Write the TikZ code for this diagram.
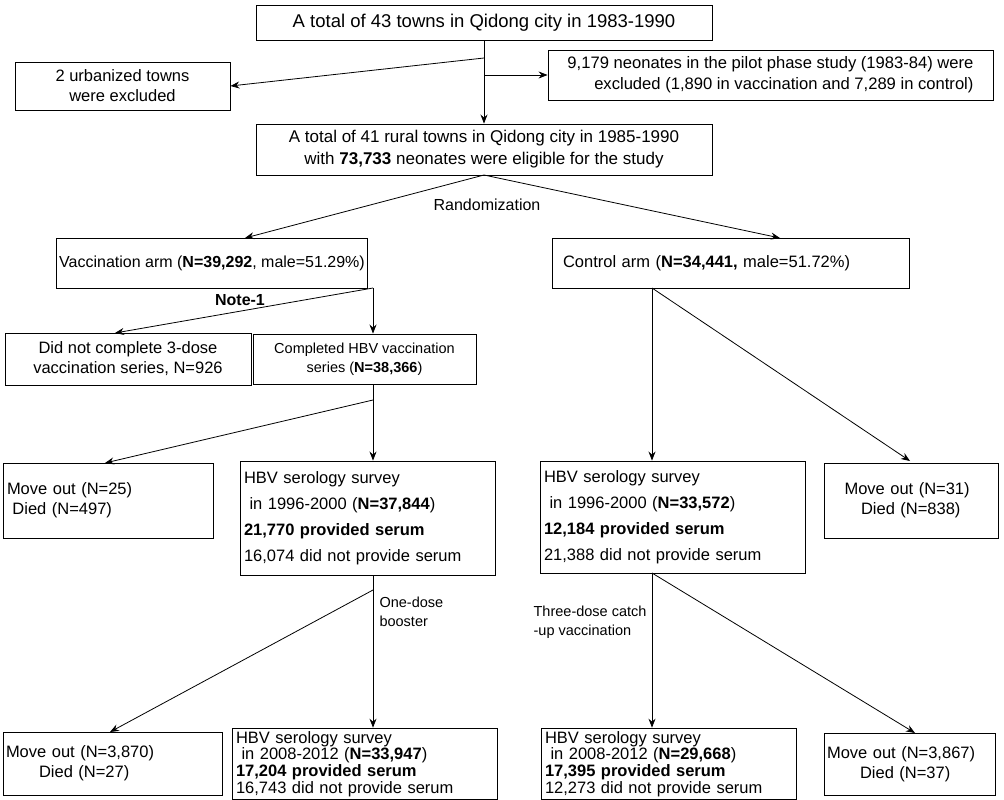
\documentclass[tikz,border=0pt]{standalone}
\usepackage{fontspec}
\setmainfont{Liberation Sans}
\usetikzlibrary{arrows.meta}
\begin{document}
\begin{tikzpicture}[x=1pt,y=-1pt,
 bx/.style={draw,line width=0.9pt,inner sep=3pt,font=\fontsize{16.5}{20}\selectfont},
 ar/.style={line width=0.8pt,-{Stealth[length=9pt,width=7pt,inset=3pt]}},
 ln/.style={line width=0.8pt}]
\useasboundingbox (0,0) rectangle (1004,800);
\fill[white] (0,0) rectangle (1004,800);
\node[bx,minimum width=456pt,minimum height=35pt,font=\fontsize{18.5}{22}\selectfont] (top) at (484,22.5) {A total of 43 towns in Qidong city in 1983-1990};
\node[bx,minimum width=215pt,minimum height=48pt,align=center] (urb) at (122.5,86) {2 urbanized towns\\were excluded};
\node[bx,minimum width=445pt,minimum height=50pt,align=right,font=\fontsize{16.6}{21}\selectfont] (pilot) at (770.5,75) {9,179 neonates in the pilot phase study (1983-84) were\\excluded (1,890 in vaccination and 7,289 in control)};
\node[bx,minimum width=456pt,minimum height=51pt,align=center,font=\fontsize{17}{22}\selectfont] (rural) at (484,149.5) {A total of 41 rural towns in Qidong city in 1985-1990\\with \textbf{73,733} neonates were eligible for the study};
\node[bx,minimum width=300pt,minimum height=50pt,font=\fontsize{16}{20}\selectfont] (vac) at (212,263) {Vaccination arm (\textbf{N=39,292}, male=51.29\%)};
\node[bx,minimum width=357pt,minimum height=50pt,text width=335pt] (ctl) at (730.5,263) {Control arm (\textbf{N=34,441,} male=51.72\%)};
\node[bx,minimum width=246pt,minimum height=52pt,align=center] (nc) at (128,359) {Did not complete 3-dose\\vaccination series, N=926};
\node[bx,minimum width=223pt,minimum height=50pt,align=center,font=\fontsize{14.5}{19}\selectfont] (comp) at (364.5,359) {Completed HBV vaccination\\series (\textbf{N=38,366})};
\node[bx,minimum width=210pt,minimum height=75pt,align=left,text width=202pt] (mo1) at (108,500.5) {Move out (N=25)\\\ Died (N=497)};
\node[bx,minimum width=255pt,minimum height=114pt,align=left,text width=247pt,font=\fontsize{16.5}{26}\selectfont] (s1) at (367.5,518) {HBV serology survey\\\ in 1996-2000 (\textbf{N=37,844})\\\textbf{21,770 provided serum}\\16,074 did not provide serum};
\node[bx,minimum width=265pt,minimum height=112pt,align=left,text width=257pt,font=\fontsize{16.5}{26}\selectfont] (s2) at (672.5,517) {HBV serology survey\\\ in 1996-2000 (\textbf{N=33,572})\\\textbf{12,184 provided serum}\\21,388 did not provide serum};
\node[bx,minimum width=174pt,minimum height=75pt,align=left,text width=166pt] (mo2) at (911,500.5) {\quad Move out (N=31)\\\qquad Died (N=838)};
\node[bx,minimum width=219pt,minimum height=63pt,align=left,text width=213pt,inner sep=1pt] (mo3) at (112.5,763.5) {Move out (N=3,870)\\\qquad Died (N=27)};
\node[bx,minimum width=265pt,minimum height=62pt,align=left,text width=257pt,font=\fontsize{16.5}{16.8}\selectfont] (s3) at (364.5,764) {HBV serology survey\\\ in 2008-2012 (\textbf{N=33,947})\\\textbf{17,204 provided serum}\\16,743 did not provide serum};
\node[bx,minimum width=255pt,minimum height=62pt,align=left,text width=247pt,font=\fontsize{16.5}{16.8}\selectfont] (s4) at (668.5,764) {HBV serology survey\\\ in 2008-2012 (\textbf{N=29,668})\\\textbf{17,395 provided serum}\\12,273 did not provide serum};
\node[bx,minimum width=171pt,minimum height=62pt,align=left,text width=165pt,inner sep=1pt] (mo4) at (909.5,764) {Move out (N=3,867)\\\qquad Died (N=37)};
% connectors
\draw[ar] (top.south -| 484,0) -- (rural.north -| 484,0);
\coordinate (b1) at (484,58);
\coordinate (b2) at (484,75);
\draw[ar] (b1) -- (urb.east);
\draw[ar] (b2) -- (pilot.west);
\coordinate (r0) at (484,175);
\draw[ar] (r0) -- (245,238);
\draw[ar] (r0) -- (780,238);
\node[font=\fontsize{16}{20}\selectfont] (rnd) at (487,205) {Randomization};
\coordinate (v0) at (373,288);
\draw[ar] (v0) -- (comp.north -| 373,0);
\draw[ar] (v0) -- (115,333);
\node[font=\bfseries\fontsize{16}{20}\selectfont] (note) at (240,300) {Note-1};
\coordinate (c0) at (652,288);
\draw[ar] (c0) -- (s2.north -| 652,0);
\draw[ar] (c0) -- (910,461);
\coordinate (k0) at (373,384);
\coordinate (k1) at (373,400);
\draw[ar] (k0) -- (s1.north -| 373,0);
\draw[ar] (k1) -- (105,463);
\coordinate (t0) at (373,575);
\coordinate (t1) at (373,590);
\draw[ar] (t0) -- (s3.north -| 373,0);
\draw[ar] (t1) -- (110,732);
\node[font=\fontsize{14.5}{19}\selectfont,align=left,anchor=west] (ob) at (376,612) {One-dose\\booster};
\coordinate (u0) at (652,573);
\draw[ar] (u0) -- (s4.north -| 652,0);
\draw[ar] (u0) -- (915,733);
\node[font=\fontsize{14.5}{19}\selectfont,align=left,anchor=east] (td) at (650,622) {Three-dose catch\\-up vaccination};
\end{tikzpicture}
\end{document}
